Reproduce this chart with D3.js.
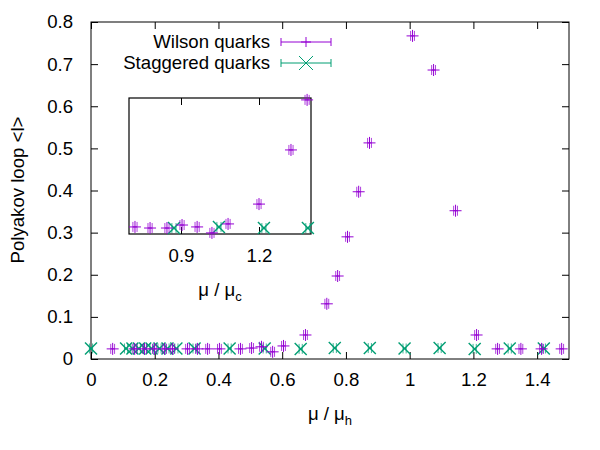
<!DOCTYPE html>
<html>
<head>
<meta charset="utf-8">
<script src="https://cdn.jsdelivr.net/npm/d3@7/dist/d3.min.js"></script>
<style>
  body { margin: 0; background: #fff; }
  svg { display: block; }
  text { font-family: "Liberation Sans", Arial, sans-serif; fill: #000; }
</style>
</head>
<body>
<svg id="chart" width="600" height="450"></svg>
<script>
// ---- data ----
const xTicks = [0, 0.2, 0.4, 0.6, 0.8, 1, 1.2, 1.4];
const yTicks = [0, 0.1, 0.2, 0.3, 0.4, 0.5, 0.6, 0.7, 0.8];
const insetXTicks = [0.9, 1.2];

const wilsonX = [0.068, 0.137, 0.168, 0.199, 0.231, 0.256, 0.303, 0.334, 0.366, 0.403, 0.469, 0.504, 0.535, 0.570, 0.604, 0.673, 0.740, 0.774, 0.805, 0.840, 0.874, 1.009, 1.075, 1.144, 1.210, 1.276, 1.349, 1.414, 1.477];
const wilsonY = [0.024, 0.024, 0.024, 0.024, 0.024, 0.024, 0.024, 0.024, 0.024, 0.024, 0.024, 0.026, 0.029, 0.017, 0.031, 0.057, 0.131, 0.197, 0.290, 0.397, 0.513, 0.767, 0.686, 0.352, 0.057, 0.024, 0.024, 0.024, 0.024];
const wilsonErr = 0.006;

const staggX = [0.0, 0.11, 0.13, 0.15, 0.17, 0.19, 0.215, 0.24, 0.268, 0.325, 0.435, 0.545, 0.658, 0.765, 0.875, 0.984, 1.094, 1.204, 1.314, 1.421];
const staggY = [0.025, 0.025, 0.025, 0.025, 0.025, 0.025, 0.025, 0.025, 0.025, 0.025, 0.025, 0.025, 0.024, 0.026, 0.026, 0.025, 0.026, 0.024, 0.025, 0.025];
const staggErr = 0.005;

const insetWilsonX = [0.723, 0.781, 0.846, 0.904, 0.962, 1.019, 1.081, 1.200, 1.323, 1.385];
const insetWilsonY = [0.026, 0.022, 0.022, 0.033, 0.026, 0.004, 0.037, 0.110, 0.309, 0.493];
const insetStaggX = [0.873, 1.046, 1.219, 1.388];
const insetStaggY = [0.022, 0.026, 0.022, 0.022];
const insetErr = 0.008;

const seriesNames = ["Wilson quarks", "Staggered quarks"];
const colors = ["#9400d3", "#009e73"];

// ---- drawing ----
const svg = d3.select("#chart");
const FS = 18.6;

const x = d3.scaleLinear().domain([0, 1.5]).range([91, 569]);
const y = d3.scaleLinear().domain([0, 0.8]).range([359, 22]);
const ix = d3.scaleLinear().domain([0.7, 1.4]).range([129, 311]);
const iy = d3.scaleLinear().domain([0, 0.5]).range([234, 98]);

function fmt(v) { return d3.format("~g")(+v.toFixed(2)); }

// main axes with inward ticks (mirrored)
const TL = 7;
const gAx = svg.append("g");
gAx.append("g").attr("transform", "translate(0,359)")
  .call(d3.axisBottom(x).tickValues(xTicks).tickSizeInner(-TL).tickSizeOuter(0).tickPadding(14).tickFormat(fmt));
gAx.append("g").attr("transform", "translate(0,22)")
  .call(d3.axisTop(x).tickValues(xTicks).tickSizeInner(-TL).tickSizeOuter(0).tickFormat(""));
gAx.append("g").attr("transform", "translate(91,0)")
  .call(d3.axisLeft(y).tickValues(yTicks).tickSizeInner(-TL).tickSizeOuter(0).tickPadding(18).tickFormat(fmt));
gAx.append("g").attr("transform", "translate(569,0)")
  .call(d3.axisRight(y).tickValues(yTicks).tickSizeInner(-TL).tickSizeOuter(0).tickFormat(""));
gAx.selectAll(".domain").remove();
gAx.selectAll(".tick line").attr("stroke", "#000").attr("stroke-width", 1);
gAx.selectAll(".tick text").attr("font-size", FS).attr("font-family", "Liberation Sans, Arial, sans-serif").attr("fill", "#000");
svg.append("rect").attr("x", 91).attr("y", 22).attr("width", 569 - 91).attr("height", 359 - 22)
  .attr("fill", "none").attr("stroke", "#000").attr("stroke-width", 1);

// axis labels
svg.append("text").attr("transform", "translate(24,190) rotate(-90)")
  .attr("text-anchor", "middle").attr("font-size", FS).text("Polyakov loop <l>");
const xl = svg.append("text").attr("x", 330).attr("y", 420).attr("text-anchor", "middle").attr("font-size", FS);
xl.append("tspan").text("μ / μ");
xl.append("tspan").attr("font-size", 13).attr("dy", 5).text("h");

// inset
const gIn = svg.append("g");
gIn.append("g").attr("transform", "translate(0,234)")
  .call(d3.axisBottom(ix).tickValues(insetXTicks).tickSizeInner(-TL).tickSizeOuter(0).tickPadding(15).tickFormat(d3.format(".1f")));
gIn.append("g").attr("transform", "translate(0,98)")
  .call(d3.axisTop(ix).tickValues(insetXTicks).tickSizeInner(-TL).tickSizeOuter(0).tickFormat(""));
gIn.selectAll(".domain").remove();
gIn.selectAll(".tick line").attr("stroke", "#000");
gIn.selectAll(".tick text").attr("font-size", FS).attr("font-family", "Liberation Sans, Arial, sans-serif").attr("fill", "#000");
svg.append("rect").attr("x", 129).attr("y", 98).attr("width", 311 - 129).attr("height", 234 - 98)
  .attr("fill", "none").attr("stroke", "#000").attr("stroke-width", 1.2);
const il = svg.append("text").attr("x", 220).attr("y", 296).attr("text-anchor", "middle").attr("font-size", FS);
il.append("tspan").text("μ / μ");
il.append("tspan").attr("font-size", 13).attr("dy", 5).text("c");

// markers
function plus(g, cx, cy, col, s) {
  g.append("line").attr("x1", cx - s).attr("x2", cx + s).attr("y1", cy).attr("y2", cy).attr("stroke", col);
  g.append("line").attr("x1", cx).attr("x2", cx).attr("y1", cy - s).attr("y2", cy + s).attr("stroke", col);
}
function cross(g, cx, cy, col, s, w) {
  g.append("line").attr("x1", cx - s).attr("x2", cx + s).attr("y1", cy - s).attr("y2", cy + s).attr("stroke", col).attr("stroke-width", w);
  g.append("line").attr("x1", cx - s).attr("x2", cx + s).attr("y1", cy + s).attr("y2", cy - s).attr("stroke", col).attr("stroke-width", w);
}
function errbar(g, x0, x1, cy, col, h, op) {
  g.append("line").attr("x1", x0).attr("x2", x1).attr("y1", cy).attr("y2", cy).attr("stroke", col);
  [x0, x1].forEach(xx => g.append("line").attr("x1", xx).attr("x2", xx).attr("y1", cy - h).attr("y2", cy + h)
    .attr("stroke", col).attr("stroke-opacity", op));
}

function drawSeries(xs, ys, err, sx, sy, col, kind) {
  const g = svg.append("g");
  xs.forEach((v, i) => {
    const cx = sx(v), cy = sy(ys[i]);
    errbar(g, sx(v - err), sx(v + err), cy, col, 5, 0.75);
    if (kind === "plus") plus(g, cx, cy, col, 6);
    else cross(g, cx, cy, col, 6, 1.4);
  });
}

drawSeries(staggX, staggY, staggErr, x, y, colors[1], "cross");
drawSeries(wilsonX, wilsonY, wilsonErr, x, y, colors[0], "plus");
drawSeries(insetStaggX, insetStaggY, insetErr, ix, iy, colors[1], "cross");
drawSeries(insetWilsonX, insetWilsonY, insetErr, ix, iy, colors[0], "plus");

// legend
const leg = svg.append("g");
const legY = [42, 63];
seriesNames.forEach((name, i) => {
  leg.append("text").attr("x", 270).attr("y", legY[i] + 6).attr("text-anchor", "end").attr("font-size", FS).text(name);
  errbar(leg, 281, 331, legY[i], colors[i], 4, 1);
  if (i === 0) plus(leg, 306, legY[i], colors[i], 5);
  else cross(leg, 306, legY[i], colors[i], 7, 1);
});
</script>
</body>
</html>
